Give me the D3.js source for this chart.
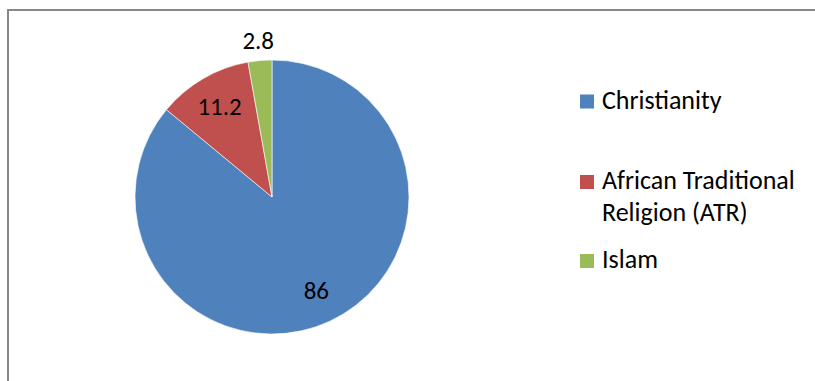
<!DOCTYPE html>
<html>
<head>
<meta charset="utf-8">
<script src="https://cdn.jsdelivr.net/npm/d3@7"></script>
<style>
  html, body { margin: 0; padding: 0; background: #fff; overflow: hidden; }
  svg { display: block; }
  text { font-family: Carlito, Calibri, "Liberation Sans", Arial, sans-serif; fill: #000; }
</style>
</head>
<body>
<svg id="chart" width="815" height="381"></svg>
<script>
// Religious affiliation shares (%)
const categories = ["Christianity", "African Traditional Religion (ATR)", "Islam"];
const values = [86, 11.2, 2.8];
const legendLines = [["Christianity"], ["African Traditional", "Religion (ATR)"], ["Islam"]];
const colors = ["#4F81BD", "#C0504D", "#9BBB59"];

const svg = d3.select("#chart");

// Chart area frame (only top and left edges fall inside the view)
svg.append("path")
  .attr("d", "M8,381 L8,10 L815,10")
  .attr("fill", "none")
  .attr("stroke", "#878787")
  .attr("stroke-width", 2);

const cx = 272, cy = 197, r = 137;

const data = categories.map((c, i) => ({ name: c, value: values[i], color: colors[i] }));

const pie = d3.pie().value(d => d.value).sort(null);
const arcs = pie(data);
const arc = d3.arc().innerRadius(0).outerRadius(r);
const inLabel = d3.arc().innerRadius(r * 0.76).outerRadius(r * 0.76);
const outLabel = d3.arc().innerRadius(r + 20).outerRadius(r + 20);

const g = svg.append("g").attr("transform", `translate(${cx},${cy})`);

g.selectAll("path.slice")
  .data(arcs)
  .join("path")
  .attr("class", "slice")
  .attr("d", arc)
  .attr("fill", d => d.data.color)
  .attr("stroke", "#fff")
  .attr("stroke-width", 0.6)
  .attr("stroke-linejoin", "round");

g.selectAll("text.val")
  .data(arcs)
  .join("text")
  .attr("class", "val")
  .attr("transform", d => {
    const small = (d.endAngle - d.startAngle) < 0.3;
    const p = (small ? outLabel : inLabel).centroid(d);
    return `translate(${p[0]},${p[1]})`;
  })
  .attr("text-anchor", "middle")
  .attr("dy", "0.33em")
  .attr("font-size", 25)
  .text(d => d3.format("~g")(d.data.value));

// Legend
const legendX = 580;
const legendBaselines = [108.5, 189, 268];
const lineGap = 31.5;
const lg = svg.append("g");
data.forEach((d, i) => {
  const base = legendBaselines[i];
  lg.append("rect")
    .attr("x", legendX).attr("y", base - 14)
    .attr("width", 14).attr("height", 14)
    .attr("fill", d.color);
  const t = lg.append("text")
    .attr("x", legendX + 22).attr("y", base)
    .attr("font-size", 26);
  legendLines[i].forEach((line, j) => {
    t.append("tspan")
      .attr("x", legendX + 22)
      .attr("y", base + j * lineGap)
      .text(line);
  });
});
</script>
</body>
</html>
